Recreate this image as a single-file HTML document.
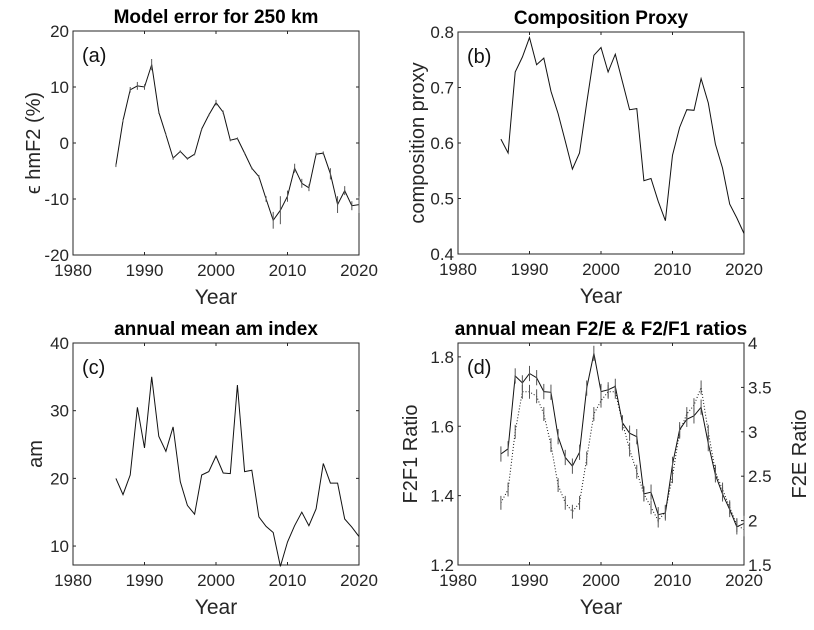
<!DOCTYPE html>
<html><head><meta charset="utf-8"><style>
html,body{margin:0;padding:0;background:#fff;width:814px;height:630px;overflow:hidden}
svg{font-family:"Liberation Sans",Arial,sans-serif}
</style></head><body>
<svg id="s" width="814" height="630" xmlns="http://www.w3.org/2000/svg"></svg>
<script>
const S=document.getElementById('s');let h='';
const yrs=[];for(let y=1986;y<=2020;y++)yrs.push(y);
function panel(o){
 const {x0,x1,y0,y1,ymin,ymax,yt,title,lab,ylab}=o;
 const X=v=>x0+(v-1980)/40*(x1-x0);
 const Y=v=>y1-(v-ymin)/(ymax-ymin)*(y1-y0);
 h+=`<rect x="${x0}" y="${y0}" width="${x1-x0}" height="${y1-y0}" fill="#fff" stroke="#262626" stroke-width="1"/>`;
 for(const t of [1980,1990,2000,2010,2020]){const xx=X(t);
  h+=`<line x1="${xx}" y1="${y1}" x2="${xx}" y2="${y1-3}" stroke="#262626"/><line x1="${xx}" y1="${y0}" x2="${xx}" y2="${y0+3}" stroke="#262626"/>`;
  h+=`<text x="${xx}" y="${y1+21}" font-size="17" fill="#262626" text-anchor="middle">${t}</text>`;}
 for(const t of yt){const yy=Y(t);
  h+=`<line x1="${x0}" y1="${yy}" x2="${x0+3}" y2="${yy}" stroke="#262626"/>`;
  if(!o.right) h+=`<line x1="${x1}" y1="${yy}" x2="${x1-3}" y2="${yy}" stroke="#262626"/>`;
  h+=`<text x="${x0-4}" y="${yy+6}" font-size="17" fill="#262626" text-anchor="end">${t}</text>`;}
 h+=`<text x="${(x0+x1)/2}" y="${y0-8}" font-size="19" font-weight="bold" text-anchor="middle">${title}</text>`;
 h+=`<text x="${(x0+x1)/2}" y="${y1+49}" font-size="21" fill="#262626" text-anchor="middle">Year</text>`;
 h+=`<text transform="translate(${o.ylx},${(y0+y1)/2}) rotate(-90)" font-size="20" fill="#262626" text-anchor="middle">${ylab}</text>`;
 h+=`<text x="${x0+9}" y="${y0+31}" font-size="20" fill="#111">${lab}</text>`;
 return {X,Y};
}
function line(P,d,dash,err){
 let pts=d.map((v,i)=>P.X(yrs[i]).toFixed(1)+','+P.Y(v).toFixed(1)).join(' ');
 h+=`<polyline points="${pts}" fill="none" stroke="#111" stroke-width="1"${dash?' stroke-dasharray="1,2"':''}/>`;
 if(err)d.forEach((v,i)=>{const e=err[i];if(e){const xx=P.X(yrs[i]);h+=`<line x1="${xx}" x2="${xx}" y1="${P.Y(v-e)}" y2="${P.Y(v+e)}" stroke="#555" stroke-width="1"/>`}});
}
let A=panel({x0:73,x1:359,y0:31,y1:255,ymin:-20,ymax:20,yt:[20,10,0,-10,-20],title:'Model error for 250 km',lab:'(a)',ylab:'ϵ hmF2 (%)',ylx:40});
const da=[-4,4,9.5,10.2,10,14,5.5,1.5,-2.7,-1.5,-2.8,-2,2.5,5,7.2,5.5,0.5,0.8,-1.8,-4.5,-6,-10,-13.8,-12,-9.5,-4.5,-7.2,-8,-2,-1.8,-5.5,-11,-8.5,-11.2,-11];
const ea=da.map((v,i)=>[0.3,0.3,0.5,0.7,0.5,1,0.3,0.2,0.3,0.2,0.2,0.2,0.2,0.2,0.5,0.3,0.2,0.2,0.2,0.2,0.3,0.5,1.5,2.5,1,0.8,0.8,0.6,0.3,0.3,1,1.5,0.8,0.8,1.5][i]);
line(A,da,false,ea);
let B=panel({x0:458,x1:744,y0:32,y1:254,ymin:0.4,ymax:0.8,yt:[0.8,0.7,0.6,0.5,0.4],title:'Composition Proxy',lab:'(b)',ylab:'composition proxy',ylx:424});
line(B,[.607,.582,.728,.755,.79,.741,.753,.693,.653,.603,.553,.582,.672,.758,.772,.728,.76,.71,.66,.662,.532,.536,.495,.46,.578,.628,.66,.659,.716,.672,.598,.555,.49,.465,.437]);
let C=panel({x0:73,x1:359,y0:343,y1:565,ymin:7.2,ymax:40,yt:[40,30,20,10],title:'annual mean am index',lab:'(c)',ylab:'am',ylx:42});
line(C,[20,17.6,20.5,30.5,24.5,35,26.2,24,27.6,19.5,16,14.7,20.5,21,23.3,20.8,20.7,33.8,21,21.2,14.3,12.9,12,7,10.6,13,15,13,15.5,22.2,19.3,19.3,14,12.8,11.4]);
let D=panel({x0:458,x1:744,y0:343,y1:565,ymin:1.2,ymax:1.84,yt:[1.8,1.6,1.4,1.2],title:'annual mean F2/E &amp; F2/F1 ratios',lab:'(d)',ylab:'F2F1 Ratio',ylx:417,right:true});
const RY=v=>343+(4-v)*88.8;
for(const t of [4,3.5,3,2.5,2,1.5]){const yy=RY(t);
 h+=`<line x1="744" y1="${yy}" x2="741" y2="${yy}" stroke="#262626"/><text x="748" y="${yy+6}" font-size="17" fill="#262626">${t}</text>`;}
h+=`<text transform="translate(806,454) rotate(-90)" font-size="20" fill="#262626" text-anchor="middle">F2E Ratio</text>`;
const dd=[1.52,1.535,1.745,1.725,1.752,1.74,1.70,1.698,1.57,1.51,1.485,1.525,1.71,1.81,1.70,1.705,1.715,1.61,1.58,1.57,1.405,1.41,1.345,1.35,1.49,1.59,1.62,1.63,1.655,1.55,1.46,1.405,1.36,1.31,1.32];
line(D,dd,false,dd.map(()=>0.022));
const fe=[2.2,2.35,3.0,3.45,3.45,3.4,3.2,2.85,2.4,2.2,2.1,2.2,2.7,3.2,3.35,3.45,3.45,3.1,2.8,2.55,2.3,2.15,2.0,2.1,2.5,3.0,3.2,3.3,3.5,3.0,2.55,2.35,2.15,1.95,1.9];
const fl=fe.map(v=>1.84-(RY(v)-343)/346.9);
line(D,fl,true,fl.map(()=>0.02));
S.innerHTML=h;
</script>
</body></html>
